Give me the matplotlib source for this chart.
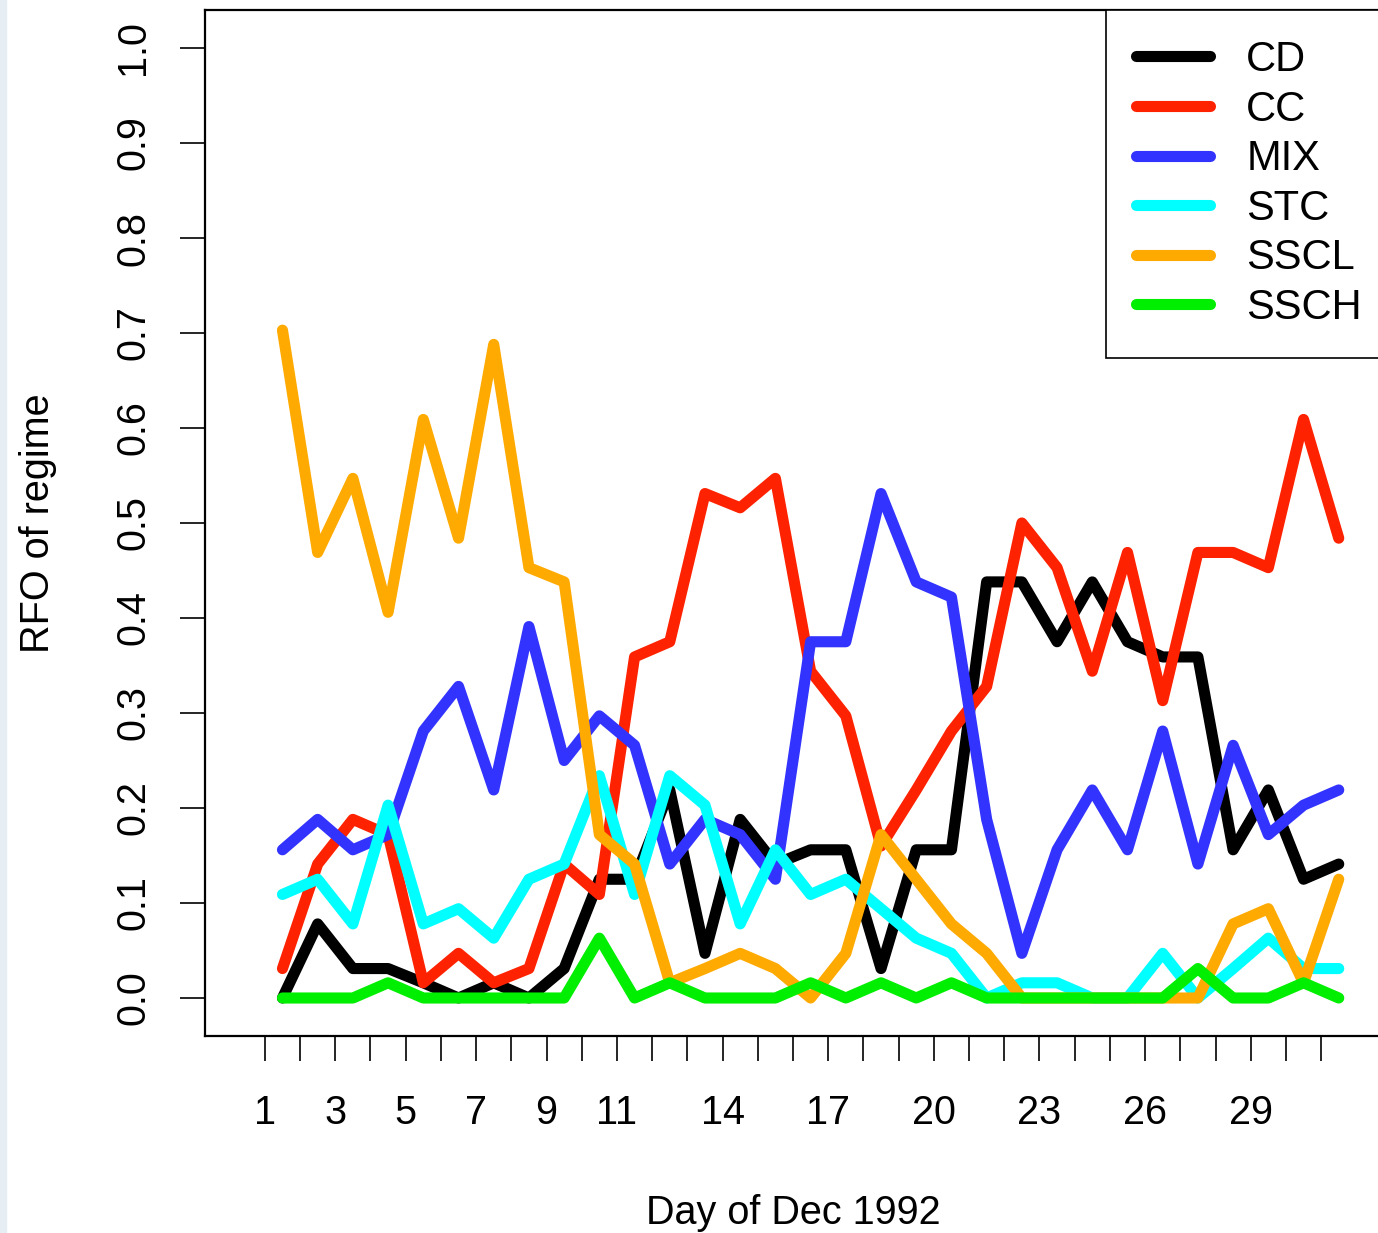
import matplotlib
matplotlib.use('Agg')
import matplotlib.pyplot as plt
from matplotlib.patches import Rectangle

plt.rcParams['font.family'] = ['Liberation Sans', 'DejaVu Sans']

days = list(range(1, 32))
shown_labels = [1, 3, 5, 7, 9, 11, 14, 17, 20, 23, 26, 29]

cd = [0.0, 0.078, 0.031, 0.031, 0.016, 0.0, 0.016, 0.0, 0.031, 0.125, 0.125,
      0.219, 0.047, 0.188, 0.141, 0.156, 0.156, 0.031, 0.156, 0.156, 0.438,
      0.438, 0.375, 0.438, 0.375, 0.359, 0.359, 0.156, 0.219, 0.125, 0.141]
cc = [0.031, 0.141, 0.188, 0.172, 0.016, 0.047, 0.016, 0.031, 0.141, 0.109,
      0.359, 0.375, 0.531, 0.516, 0.547, 0.344, 0.297, 0.16, 0.219, 0.281,
      0.328, 0.5, 0.453, 0.344, 0.469, 0.313, 0.469, 0.469, 0.453, 0.609, 0.484]
mix = [0.156, 0.188, 0.156, 0.172, 0.281, 0.328, 0.219, 0.391, 0.25, 0.297,
       0.266, 0.141, 0.188, 0.172, 0.125, 0.375, 0.375, 0.531, 0.438, 0.422,
       0.188, 0.047, 0.156, 0.219, 0.156, 0.281, 0.141, 0.266, 0.172, 0.203, 0.219]
stc = [0.109, 0.125, 0.078, 0.203, 0.078, 0.094, 0.063, 0.125, 0.141, 0.234,
       0.109, 0.234, 0.203, 0.078, 0.156, 0.109, 0.125, 0.094, 0.063, 0.047,
       0.0, 0.016, 0.016, 0.0, 0.0, 0.047, 0.0, 0.031, 0.063, 0.031, 0.031]
sscl = [0.703, 0.469, 0.547, 0.406, 0.609, 0.484, 0.688, 0.453, 0.438, 0.172,
        0.141, 0.016, 0.031, 0.047, 0.031, 0.0, 0.047, 0.172, 0.125, 0.078,
        0.047, 0.0, 0.0, 0.0, 0.0, 0.0, 0.0, 0.078, 0.094, 0.016, 0.125]
ssch = [0.0, 0.0, 0.0, 0.016, 0.0, 0.0, 0.0, 0.0, 0.0, 0.063, 0.0, 0.016, 0.0,
        0.0, 0.0, 0.016, 0.0, 0.016, 0.0, 0.016, 0.0, 0.0, 0.0, 0.0, 0.0, 0.0,
        0.031, 0.0, 0.0, 0.016, 0.0]

series = [('CD', cd, 'black'), ('CC', cc, '#ff2200'), ('MIX', mix, '#3333ff'),
          ('STC', stc, '#00ffff'), ('SSCL', sscl, '#ffaa00'), ('SSCH', ssch, '#00ee00')]

fig = plt.figure(figsize=(13.78, 12.33), dpi=100)
fig.patches.append(Rectangle((0, 0), 6 / 1378, 1, transform=fig.transFigure,
                             color='#e6edf3', zorder=-1))
ax = fig.add_axes([205 / 1378, 197 / 1233, 1176 / 1378, 1026 / 1233])

# values sit at the middle of each day
xs = [d + 0.5 for d in days]
for name, vals, col in series:
    ax.plot(xs, vals, color=col, lw=8, label=name,
            solid_capstyle='round', solid_joinstyle='round')

ax.set_xlim(-0.7, 32.7)
ax.set_ylim(-0.04, 1.04)

ax.set_xticks(days)
ax.set_xticklabels([str(d) if d in shown_labels else '' for d in days])
yt = [i / 10 for i in range(11)]
ax.set_yticks(yt)
ax.set_yticklabels([f'{v:.1f}' for v in yt], rotation=90, va='center')
ax.tick_params(length=18, width=1.2, labelsize=28.5, pad=24)
ax.tick_params(axis='y', pad=20)

for s in ax.spines.values():
    s.set_linewidth(1.6)

ax.set_xlabel('Day of Dec 1992', fontsize=28.5)
ax.set_ylabel('RFO of regime', fontsize=28.5)
ax.xaxis.set_label_coords(0.5, -0.154)
ax.yaxis.set_label_coords(-0.126, 0.5)

leg = ax.legend(loc='upper right', bbox_to_anchor=(1 + 11 / 1176, 1),
                fontsize=30, frameon=True, fancybox=False,
                borderaxespad=0, handlelength=1.78, handletextpad=0.875,
                labelspacing=0.23, borderpad=0.72, framealpha=1)
leg.get_frame().set_edgecolor('black')
leg.get_frame().set_linewidth(1.2)

fig.savefig('out.png', dpi=100)
